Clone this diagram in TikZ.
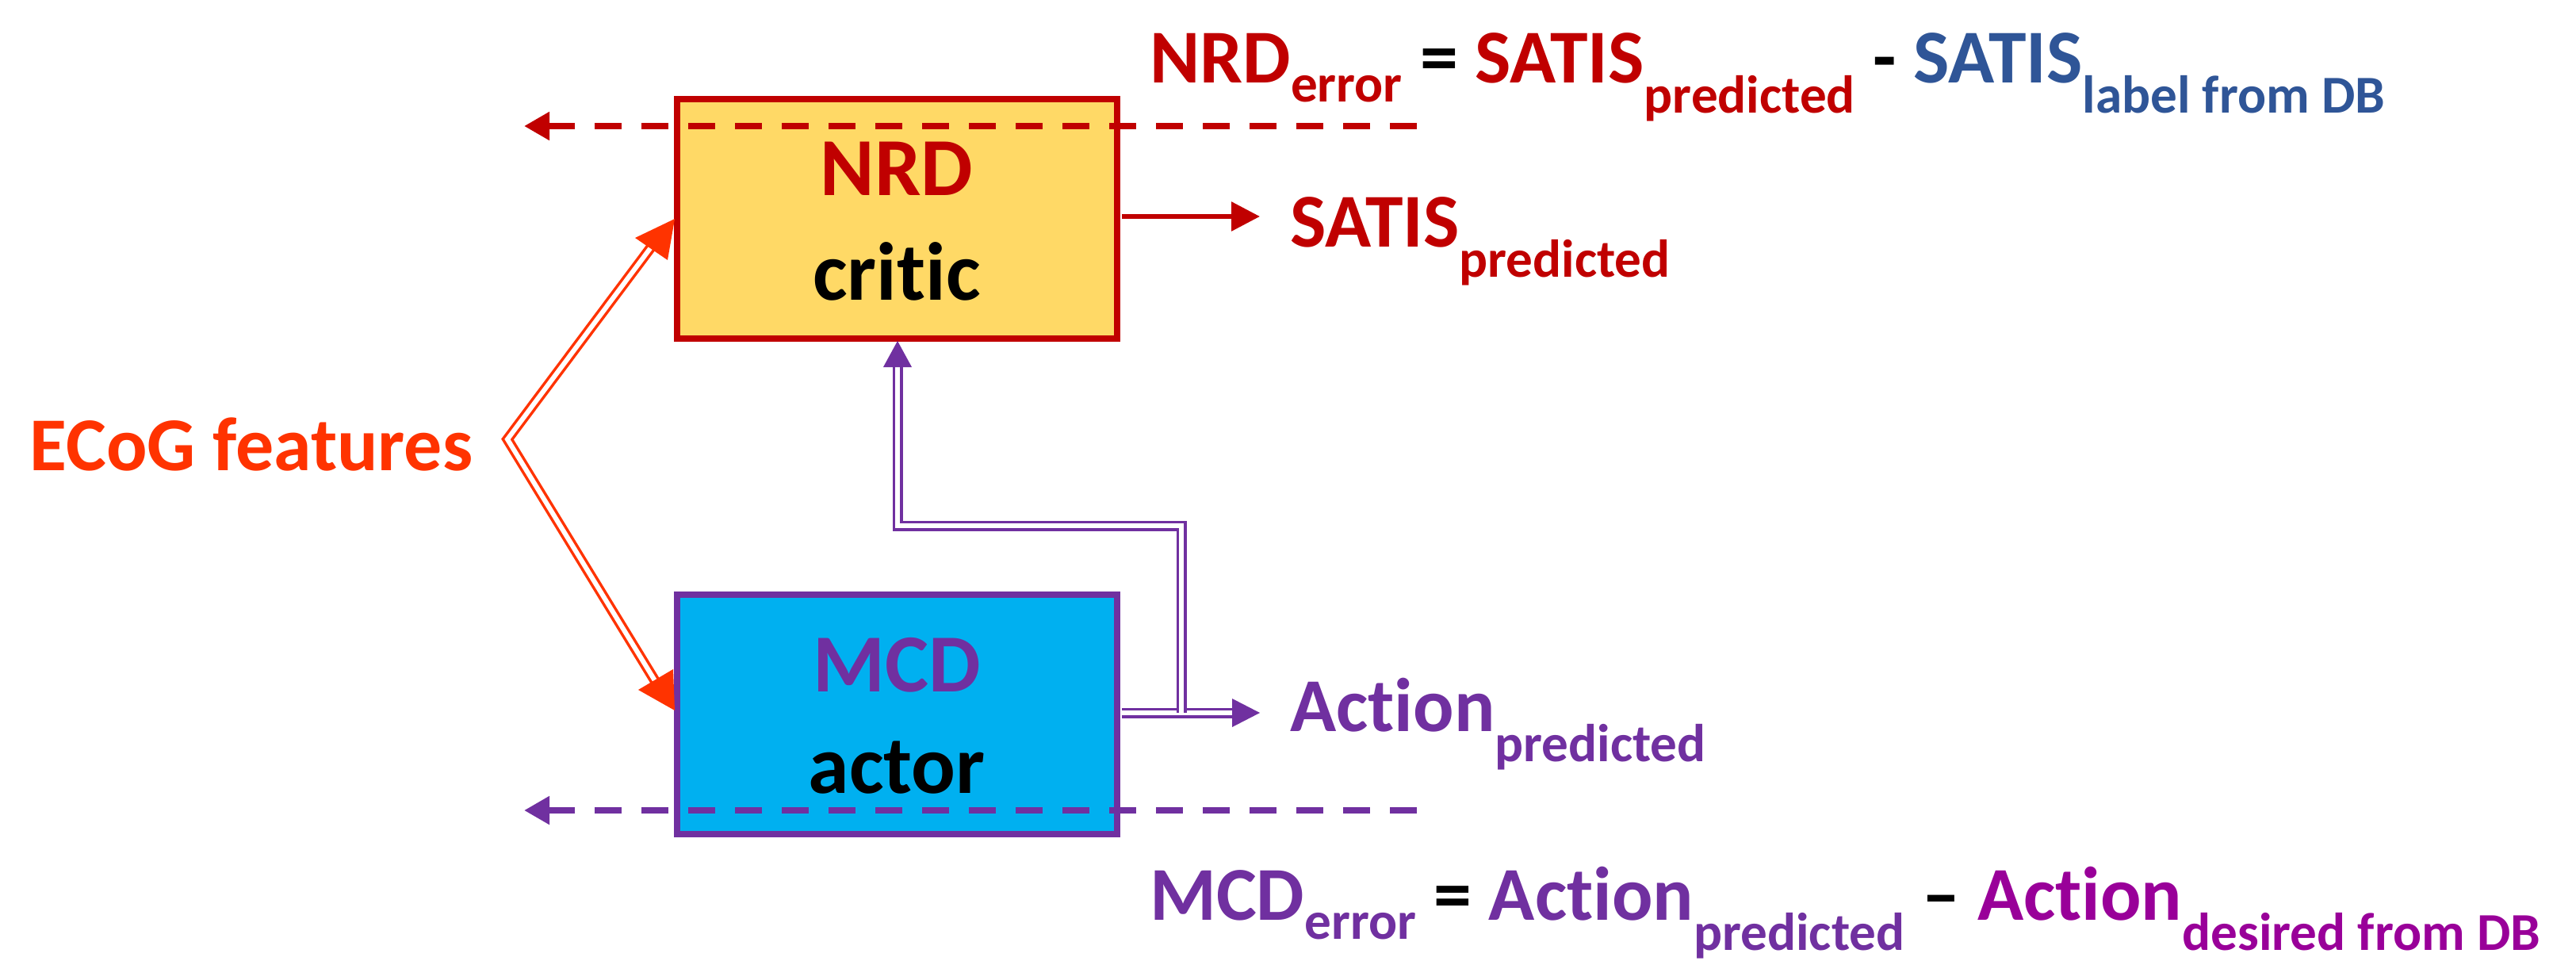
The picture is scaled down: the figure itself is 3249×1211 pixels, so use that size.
\documentclass[tikz,border=0pt]{standalone}
\usepackage{fontspec}
\setmainfont{Carlito}[Ligatures=NoCommon]
\usetikzlibrary{arrows.meta}
\definecolor{dred}{HTML}{C00000}
\definecolor{ored}{HTML}{FF3300}
\definecolor{yel}{HTML}{FFD966}
\definecolor{sky}{HTML}{00B0F0}
\definecolor{purp}{HTML}{7030A0}
\definecolor{steel}{HTML}{2F5597}
\definecolor{mag}{HTML}{990099}
\tikzset{
 box/.style={draw,line width=8pt,minimum width=555pt,minimum height=302pt,inner sep=0pt},
 big/.style={font=\fontsize{104}{110}\selectfont\bfseries},
 lab/.style={font=\fontsize{96}{100}\selectfont\bfseries,anchor=base west,inner sep=0pt},
 tip/.style={-{Triangle[length=36pt,width=36pt]}},
 dbl/.style={double=white,double distance=6pt,line width=3.5pt},
 errline/.style={line width=8pt,dash pattern=on 34pt off 25pt,{Triangle[length=32pt,width=34pt]}-}
}
\begin{document}
\begin{tikzpicture}[x=1pt,y=-1pt]
\useasboundingbox (0,0) rectangle (3249,1211);
\node[box,draw=dred,fill=yel] (nrd) at (1131,276) {};
\node[box,draw=purp,fill=sky] (mcd) at (1131,901) {};
\node[big,text=dred] (nrdt) at (1131,213) {NRD};
\node[big] (crt) at (1131,342) {critic};
\node[big,text=purp] (mcdt) at (1131,839) {MCD};
\node[big] (act) at (1131,968) {actor};
\node[font=\fontsize{96}{100}\selectfont\bfseries,text=ored,anchor=east] (ecog) at (600,560) {ECoG features};
\coordinate (v) at (640,554);
\coordinate (nin) at (830,300);
\coordinate (min) at (830,865);
\draw[ored,dbl] (nin) -- (v) -- (min);
\fill[ored] (851,276) -- (801,300) -- (842,328) -- cycle;
\fill[ored] (851,896) -- (805,870) -- (849,844) -- cycle;
\coordinate (so) at (1589,273);
\draw[dred,line width=6pt,tip] (1415,273) -- (so);
\node[lab,text=dred] (satis) at (1627,311) {SATIS\textsubscript{predicted}};
\coordinate (ao) at (1589,899);
\coordinate (c1) at (1490,663);
\coordinate (c2) at (1132,663);
\draw[purp,dbl] (1415,899) -- (1556,899);
\fill[purp] (ao) -- (1554,881) -- (1554,917) -- cycle;
\draw[purp,dbl] (1490,899) -- (c1) -- (c2) -- (1132,462);
\fill[purp] (1132,430) -- (1114,463) -- (1150,463) -- cycle;
\node[lab,text=purp] (action) at (1627,922) {Action\textsubscript{predicted}};
\draw[dred,errline] (661,159) -- (1792,159);
\draw[purp,errline] (661,1022) -- (1792,1022);
\node[lab,text=dred] (eq1) at (1450,104) {NRD\textsubscript{error} \textcolor{black}{=} SATIS\textsubscript{predicted} \textcolor{black}{-} \textcolor{steel}{SATIS\textsubscript{label from DB}}};
\node[lab,text=purp] (eq2) at (1450,1160) {MCD\textsubscript{error} \textcolor{black}{=} Action\textsubscript{predicted} \textcolor{black}{–} \textcolor{mag}{Action\textsubscript{desired from DB}}};
\end{tikzpicture}
\end{document}
